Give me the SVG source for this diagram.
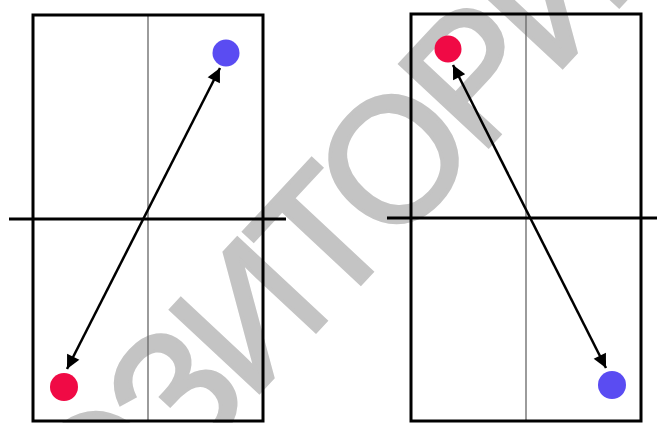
<svg xmlns="http://www.w3.org/2000/svg" width="657" height="423" viewBox="0 0 657 423">
  <style>
    .frame{fill:none;stroke:#000;stroke-width:3}
    .axis{stroke:#000;stroke-width:3}
    .mid{stroke:#666;stroke-width:1.3}
    .conn{stroke:#000;stroke-width:2.5;fill:none;marker-start:url(#ah);marker-end:url(#ah)}
    .red{fill:#f00a45}
    .blue{fill:#5a4cf2}
    .wm{font-family:"Liberation Sans",Arial,sans-serif;font-size:176px;letter-spacing:-9px;fill:#c4c4c4;stroke:#c4c4c4;stroke-width:3.5}
  </style>
  <defs>
    <marker id="ah" viewBox="0 0 10 10" refX="10" refY="5" markerWidth="6" markerHeight="5.5" orient="auto-start-reverse" markerUnits="strokeWidth">
      <path d="M0,0 L10,5 L0,10 Z" fill="#000"/>
    </marker>
  </defs>
  <rect width="657" height="423" fill="#fff"/>
  <text class="wm" x="0" y="0" transform="translate(-132,812) rotate(-47)">РЕПОЗИТОРИЙ</text>
  <g id="court-left">
    <line class="mid" x1="148" y1="15" x2="148" y2="421"/>
    <rect class="frame" x="33" y="15" width="230" height="406"/>
    <line class="axis" x1="9" y1="219" x2="286" y2="219"/>
  </g>
  <g id="court-right">
    <line class="mid" x1="526" y1="14" x2="526" y2="421"/>
    <rect class="frame" x="411" y="14" width="230" height="407"/>
    <line class="axis" x1="387" y1="218" x2="657" y2="218"/>
  </g>
  <g id="connectors">
    <line class="conn" x1="67" y1="369" x2="220" y2="68"/>
    <line class="conn" x1="453" y1="65" x2="606" y2="368"/>
  </g>
  <g id="dot-left-blue"><circle class="blue" cx="226" cy="53" r="13.5"/></g>
  <g id="dot-left-red"><circle class="red" cx="64" cy="387" r="14"/></g>
  <g id="dot-right-red"><circle class="red" cx="448" cy="49" r="13.5"/></g>
  <g id="dot-right-blue"><circle class="blue" cx="612" cy="385" r="14"/></g>
</svg>
